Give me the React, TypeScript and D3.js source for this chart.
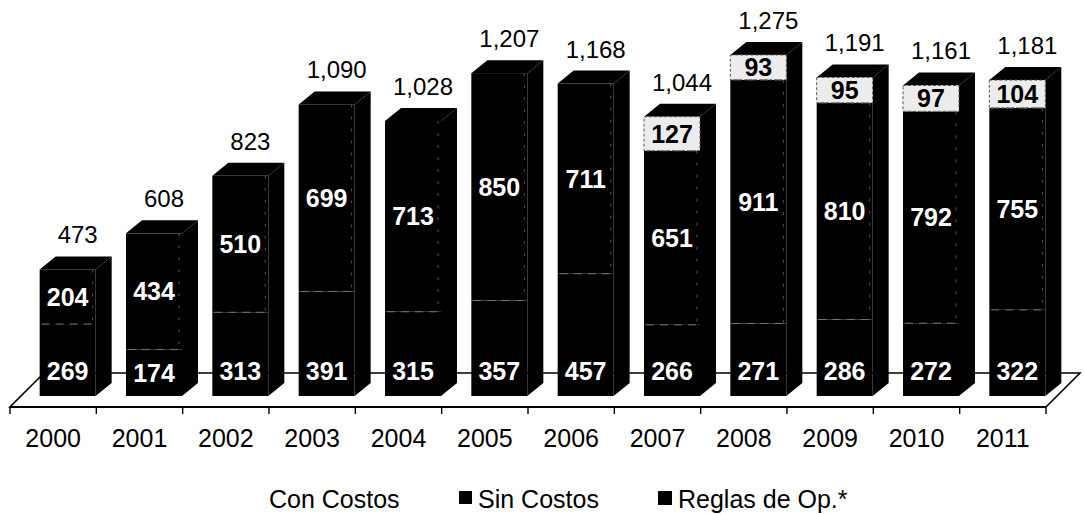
import React from "react";
import * as d3 from "d3";

const years = ["2000", "2001", "2002", "2003", "2004", "2005", "2006", "2007", "2008", "2009", "2010", "2011"];
const conCostos = [269, 174, 313, 391, 315, 357, 457, 266, 271, 286, 272, 322];
const sinCostos = [204, 434, 510, 699, 713, 850, 711, 651, 911, 810, 792, 755];
const reglasOp = [0, 0, 0, 0, 0, 0, 0, 127, 93, 95, 97, 104];
const seriesNames = ["Con Costos", "Sin Costos", "Reglas de Op.*"];

const W = 1084;
const H = 514;
const FONT = "Arial, 'Liberation Sans', Helvetica, sans-serif";

export default function App() {
  const x = d3.scaleBand<string>().domain(years).range([10, 1046]).paddingInner(0).paddingOuter(0);
  const y = d3.scaleLinear().domain([0, 1400]).range([396, 396 - 1400 * 0.2675]);
  const fmt = d3.format(",");

  const barW = 56;
  const shift = 14.5; // bars sit mid-depth of floor
  const ddx = 16;
  const ddy = -13;
  const floorFront = 407;
  const fdx = 34;
  const fdy = -34;

  const stack = years.map((yr, i) => {
    const segs = [conCostos[i], sinCostos[i], reglasOp[i]];
    let acc = 0;
    return segs.map((v, k) => {
      const s = { key: k, v, y0: acc, y1: acc + v };
      acc += v;
      return s;
    });
  });
  const totals = years.map((_, i) => conCostos[i] + sinCostos[i] + reglasOp[i]);

  const x0 = x(years[0])!;
  const x1 = x(years[years.length - 1])! + x.bandwidth();

  return (
    <svg width={W} height={H} style={{ position: "absolute", left: 0, top: 0, background: "#fff" }} fontFamily={FONT}>
      {/* floor */}
      <polygon
        points={`${x0},${floorFront} ${x1},${floorFront} ${x1 + fdx},${floorFront + fdy} ${x0 + fdx},${floorFront + fdy}`}
        fill="#fff"
        stroke="#000"
        strokeWidth={1.6}
      />
      <line x1={x0} x2={x1} y1={floorFront} y2={floorFront} stroke="#000" strokeWidth={2.2} />
      {d3.range(years.length + 1).map((i) => {
        const tx = x0 + i * x.bandwidth();
        return <line key={"t" + i} x1={tx} x2={tx} y1={floorFront} y2={floorFront + 7} stroke="#000" strokeWidth={1.4} />;
      })}
      {years.map((yr) => (
        <text key={"yl" + yr} x={x(yr)! + x.bandwidth() / 2} y={447} textAnchor="middle" fontSize={25} fill="#000">
          {yr}
        </text>
      ))}

      {/* bars */}
      {years.map((yr, i) => {
        const cx = x(yr)! + x.bandwidth() / 2 + shift;
        const left = cx - barW / 2;
        const right = cx + barW / 2;
        const segs = stack[i].filter((s) => s.v > 0);
        const topV = totals[i];
        const yTop = y(topV);
        const yBot = y(0);
        return (
          <g key={"b" + yr}>
            {/* side face */}
            <polygon
              points={`${right},${yBot} ${right + ddx},${yBot + ddy} ${right + ddx},${yTop + ddy} ${right},${yTop}`}
              fill="#000"
            />
            {/* top face */}
            <polygon
              points={`${left},${yTop} ${right},${yTop} ${right + ddx},${yTop + ddy} ${left + ddx},${yTop + ddy}`}
              fill="#000"
            />
            {segs.map((s) => {
              const yt = y(s.y1);
              const yb = y(s.y0);
              const light = s.key === 2;
              return (
                <rect
                  key={"s" + s.key}
                  x={left}
                  y={yt}
                  width={barW}
                  height={yb - yt}
                  fill={light ? "#ececec" : "#000"}
                  stroke={light ? "#555" : "none"}
                  strokeWidth={light ? 1 : 0}
                  strokeDasharray={light ? "3 2" : undefined}
                />
              );
            })}
            {/* dashed segment boundaries */}
            {segs.slice(1).map((s) => (
              <line
                key={"d" + s.key}
                x1={left + 2}
                x2={right - 2}
                y1={y(s.y0)}
                y2={y(s.y0)}
                stroke="#777"
                strokeWidth={1}
                strokeDasharray="8 6"
              />
            ))}
            <line
              x1={right - 3}
              x2={right - 3}
              y1={y(sinCostos[i] + conCostos[i])}
              y2={y(conCostos[i])}
              stroke="#555"
              strokeWidth={1}
              strokeDasharray="3 9"
            />
            {/* value labels */}
            {segs.map((s) => {
              const yt = y(s.y1);
              const yb = y(s.y0);
              let cy = (yt + yb) / 2;
              if (s.key === 0) cy = Math.min(yb - 14, Math.max(cy, y(95)));
              return (
                <text
                  key={"v" + s.key}
                  x={cx}
                  y={cy}
                  dy="0.36em"
                  textAnchor="middle"
                  fontSize={25}
                  fontWeight="bold"
                  fill={s.key === 2 ? "#000" : "#fff"}
                >
                  {s.v}
                </text>
              );
            })}
            {/* total */}
            <text x={cx + ddx / 2 + 2} y={yTop + ddy - 13} textAnchor="middle" fontSize={24} fill="#000">
              {fmt(topV)}
            </text>
          </g>
        );
      })}

      {/* legend */}
      <g fontSize={25} fill="#000">
        <text x={269} y={508}>{seriesNames[0]}</text>
        <rect x={459} y={491} width={13} height={13} fill="#000" />
        <text x={478} y={508}>{seriesNames[1]}</text>
        <rect x={658} y={491} width={14} height={14} fill="#000" />
        <text x={678} y={508}>{seriesNames[2]}</text>
      </g>
    </svg>
  );
}
